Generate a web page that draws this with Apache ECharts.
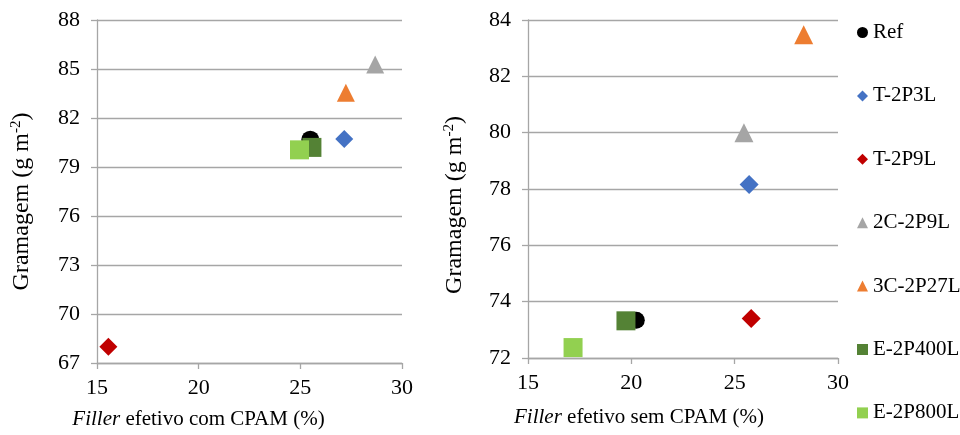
<!DOCTYPE html>
<html>
<head>
<meta charset="utf-8">
<script src="https://cdn.jsdelivr.net/npm/echarts@6/dist/echarts.min.js"></script>
<style>html,body{margin:0;padding:0;background:#fff;}#c{width:960px;height:435px;}</style>
</head>
<body>
<div id="c"></div>
<script>
const seriesNames = ['Ref', 'T-2P3L', 'T-2P9L', '2C-2P9L', '3C-2P27L', 'E-2P400L', 'E-2P800L'];
const seriesColors = ['#000000', '#4472C4', '#C00000', '#A5A5A5', '#ED7D31', '#548235', '#92D050'];
const seriesSymbols = ['circle', 'diamond', 'diamond', 'triangle', 'triangle', 'rect', 'rect'];
// Left chart: Filler efetivo com CPAM (%) vs Gramagem
const fillerCom = [25.49, 27.16, 15.56, 28.68, 27.24, 25.57, 24.96];
const gramagemCom = [80.67, 80.71, 68.0, 85.28, 83.54, 80.2, 80.05];
// Right chart: Filler efetivo sem CPAM (%) vs Gramagem
const fillerSem = [20.24, 25.7, 25.8, 25.45, 28.34, 19.74, 17.18];
const gramagemSem = [73.34, 78.16, 73.4, 80.0, 83.48, 73.32, 72.37];

const FONT = 'Liberation Serif';
const gridColor = '#A6A6A6';

function xAxisCfg(gridIndex, italic, rest, gap, padRight) {
  return {
    type: 'value', gridIndex: gridIndex, min: 15, max: 30, interval: 5,
    name: '{i|' + italic + '}{a|' + rest + '}',
    nameLocation: 'middle', nameGap: gap,
    nameTextStyle: {
      padding: [0, padRight, 0, 0],
      rich: {
        i: { fontFamily: FONT, fontSize: 21, fontStyle: 'italic', color: '#000' },
        a: { fontFamily: FONT, fontSize: 21, color: '#000' }
      }
    },
    axisLine: { show: true, lineStyle: { color: gridColor, width: 1.3 } },
    axisTick: { show: true, length: 6, lineStyle: { color: gridColor, width: 1.3 } },
    axisLabel: { fontFamily: FONT, fontSize: 22, color: '#000', margin: 14 },
    splitLine: { show: false }
  };
}
function yAxisCfg(gridIndex, min, max, interval, gap, padRight) {
  return {
    type: 'value', gridIndex: gridIndex, min: min, max: max, interval: interval,
    name: '{a|Gramagem (g m}{s|-2}{a|)}',
    nameLocation: 'middle', nameGap: gap,
    nameTextStyle: {
      padding: [0, padRight, 0, 0],
      rich: {
        a: { fontFamily: FONT, fontSize: 24, color: '#000', lineHeight: 26 },
        s: { fontFamily: FONT, fontSize: 15, color: '#000', verticalAlign: 'top', lineHeight: 15 }
      }
    },
    axisLine: { show: true, lineStyle: { color: gridColor, width: 1.3 } },
    axisTick: { show: true, length: 6, lineStyle: { color: gridColor, width: 1.3 } },
    axisLabel: { fontFamily: FONT, fontSize: 22, color: '#000', margin: 17 },
    splitLine: { show: true, lineStyle: { color: gridColor, width: 1.3 } }
  };
}

const series = [];
seriesNames.forEach(function (n, i) {
  const sizeL = seriesSymbols[i] === 'rect' ? 19 : 18;
  series.push({
    name: n, type: 'scatter', xAxisIndex: 0, yAxisIndex: 0,
    symbol: seriesSymbols[i], symbolSize: sizeL,
    itemStyle: { color: seriesColors[i], opacity: 1 },
    data: [[fillerCom[i], gramagemCom[i]]]
  });
});
seriesNames.forEach(function (n, i) {
  const sizeR = seriesSymbols[i] === 'circle' ? 17 : 19;
  series.push({
    name: n, type: 'scatter', xAxisIndex: 1, yAxisIndex: 1,
    symbol: seriesSymbols[i], symbolSize: sizeR,
    itemStyle: { color: seriesColors[i], opacity: 1 },
    data: [[fillerSem[i], gramagemSem[i]]]
  });
});

const chart = echarts.init(document.getElementById('c'), null, { renderer: 'canvas' });
chart.setOption({
  animation: false,
  backgroundColor: '#fff',
  grid: [
    { left: 97, right: 558, top: 20, bottom: 66 },
    { left: 528, right: 122, top: 20, bottom: 77 }
  ],
  xAxis: [
    xAxisCfg(0, 'Filler', ' efetivo com CPAM (%)', 46, 102),
    xAxisCfg(1, 'Filler', ' efetivo sem CPAM (%)', 49, 88)
  ],
  yAxis: [
    yAxisCfg(0, 67, 88, 3, 62, 20),
    yAxisCfg(1, 72, 84, 2, 60, 32)
  ],
  legend: {
    data: seriesNames,
    orient: 'vertical', left: 852, top: 17,
    itemWidth: 11, itemHeight: 11, itemGap: 42.4,
    textStyle: { fontFamily: FONT, fontSize: 21, color: '#000', lineHeight: 21 }
  },
  series: series
});
</script>
</body>
</html>
